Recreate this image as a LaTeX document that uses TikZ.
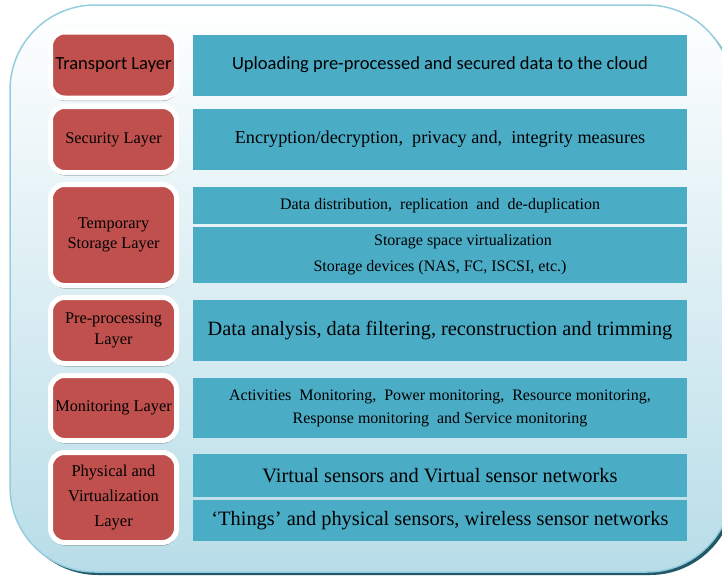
\documentclass[tikz,border=0pt]{standalone}
\usepackage{fontspec}
\setmainfont{Liberation Serif}
\newfontfamily\calibri{Carlito}
\usepackage{tikz}
\usetikzlibrary{shadows}
\usetikzlibrary{fit}
\usetikzlibrary{backgrounds}
\definecolor{layerred}{RGB}{192,80,77}
\definecolor{taskblue}{RGB}{75,172,198}
\definecolor{rimblue}{RGB}{150,205,222}
\definecolor{rimdark}{RGB}{33,89,104}
\definecolor{paleblue}{RGB}{184,221,232}
\tikzset{
	layer node/.style={rectangle,rounded corners=14pt,fill=layerred,draw=white,line width=5pt,
		minimum width=126pt,align=center,inner sep=1pt,font=\fontsize{16.3}{20.5}\selectfont,
		drop shadow={shadow xshift=0.5pt,shadow yshift=-3pt,fill=black,opacity=0.35}},
	task node/.style={rectangle,fill=taskblue,minimum width=494pt,inner sep=0pt,align=center},
	panel/.style={rectangle,fill=white,inner xsep=5.5pt,inner ysep=4pt,
		drop shadow={shadow xshift=0pt,shadow yshift=-3pt,fill=gray!85,opacity=1}},
	frame/.style={rounded corners=85pt}
}
\begin{document}
\begin{tikzpicture}[x=1pt,y=-1pt]
	\useasboundingbox (0,0) rectangle (722,576);
	\clip (0,0) rectangle (722,576);
	% outer frame
	\fill[rimdark,frame] (13,8) rectangle (735,575);
	\shade[frame,top color=white,bottom color=paleblue,draw=rimblue,line width=1.5pt] (10,5) rectangle (732,572);
	% layers
	\node [layer node,minimum height=66pt,font=\calibri\fontsize{18.5}{20}\selectfont] (transport) at (113.5,65) {Transport Layer};
	\node [layer node,minimum height=66pt] (security) at (113.5,139.5) {Security Layer};
	\node [layer node,minimum height=101pt] (storage) at (113.5,235) {Temporary\\Storage Layer};
	\node [layer node,minimum height=66pt] (preproc) at (113.5,330.5) {Pre-processing\\Layer};
	\node [layer node,minimum height=65pt] (monitor) at (113.5,408) {Monitoring Layer};
	\node [layer node,minimum height=90pt,font=\fontsize{16.5}{25}\selectfont] (physical) at (113.5,497.5) {Physical and\\Virtualization\\Layer};
	% tasks
	\node [task node,minimum height=61pt,font=\calibri\fontsize{18.5}{20}\selectfont] (upload) at (440,65) {Uploading pre-processed and secured data to the cloud};
	\node [task node,minimum height=61pt,font=\fontsize{18.2}{20}\selectfont] (crypto) at (440,139.5) {Encryption/decryption, \ privacy and, \ integrity measures};
	\node [task node,minimum height=37pt,font=\fontsize{16}{20}\selectfont] (distrib) at (440,205.5) {Data distribution, \ replication \ and \ de-duplication};
	\node [task node,minimum height=56pt,font=\fontsize{16}{26}\selectfont] (devices) at (440,255) {\hspace*{46pt}Storage space virtualization\\Storage devices (NAS, FC, ISCSI, etc.)};
	\node [task node,minimum height=61pt,font=\fontsize{20.3}{22}\selectfont] (analysis) at (440,330.5) {Data analysis, data filtering, reconstruction and trimming};
	\node [task node,minimum height=60pt,font=\fontsize{16}{23}\selectfont] (activity) at (440,408) {Activities \ Monitoring, \ Power monitoring, \ Resource monitoring,\\Response monitoring \ and Service monitoring};
	\node [task node,minimum height=43pt,font=\fontsize{20.4}{22}\selectfont] (virtual) at (440,475.5) {Virtual sensors and Virtual sensor networks};
	\node [task node,minimum height=41pt,font=\fontsize{20.4}{22}\selectfont] (things) at (440,520.5) {`Things' and physical sensors, wireless sensor networks};
	% white panels behind the tasks
	\begin{scope}[on background layer]
		\node [panel,fit=(upload)] {};
		\node [panel,fit=(crypto)] {};
		\node [panel,fit=(distrib)(devices)] {};
		\node [panel,fit=(analysis)] {};
		\node [panel,fit=(activity)] {};
		\node [panel,fit=(virtual)(things)] {};
	\end{scope}
\end{tikzpicture}
\end{document}
